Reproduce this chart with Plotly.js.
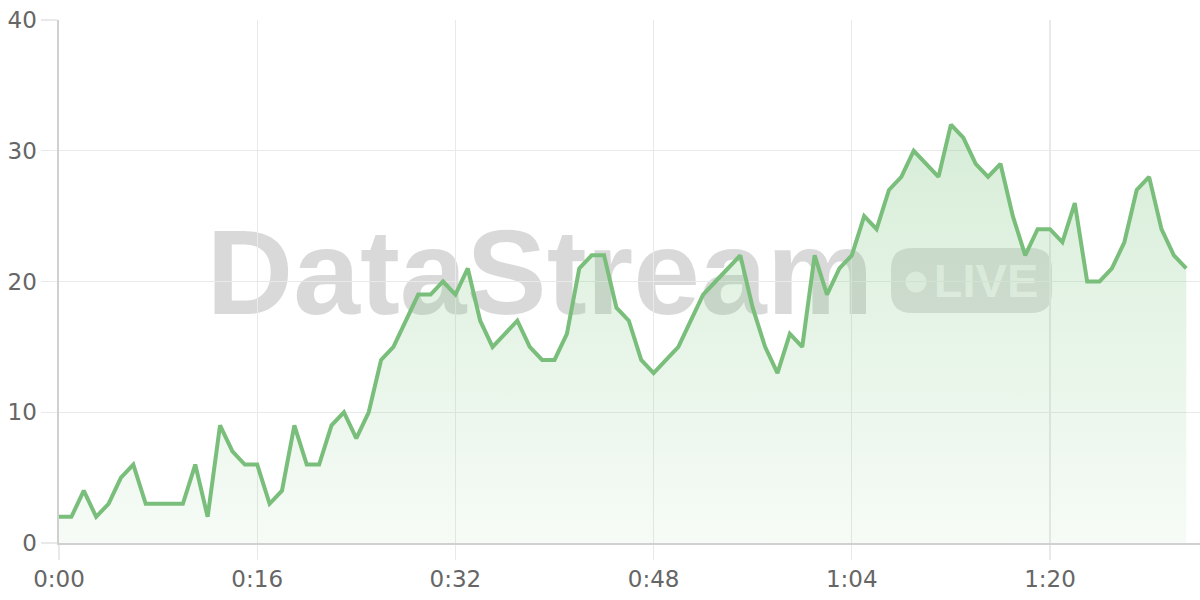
<!DOCTYPE html>
<html>
<head>
<meta charset="utf-8">
<script src="https://cdn.plot.ly/plotly-3.0.1.min.js"></script>
<style>
  html, body { margin: 0; padding: 0; background: #ffffff; }
  #chart { width: 1200px; height: 600px; }
</style>
</head>
<body>
<div id="chart"></div>
<script>
// ---- data (one value per second) ----
const values = [
  2, 2, 4, 2, 3, 5, 6, 3, 3, 3,
  3, 6, 2, 9, 7, 6, 6, 3, 4, 9,
  6, 6, 9, 10, 8, 10, 14, 15, 17, 19,
  19, 20, 19, 21, 17, 15, 16, 17, 15, 14,
  14, 16, 21, 22, 22, 18, 17, 14, 13, 14,
  15, 17, 19, 20, 21, 22, 18, 15, 13, 16,
  15, 22, 19, 21, 22, 25, 24, 27, 28, 30,
  29, 28, 32, 31, 29, 28, 29, 25, 22, 24,
  24, 23, 26, 20, 20, 21, 23, 27, 28, 24,
  22, 21
];
const xTickVals = [0, 16, 32, 48, 64, 80];
const xTickText = ['0:00', '0:16', '0:32', '0:48', '1:04', '1:20'];
const yTickVals = [0, 10, 20, 30, 40];
const watermarkText = 'DataStream';
const badgeText = 'LIVE';

const seconds = values.map((v, i) => i);

// ---- layout geometry (pixels) ----
const W = 1200, H = 600;
const M = { l: 59, r: 0, t: 20, b: 57 };
const plotW = W - M.l - M.r, plotH = H - M.t - M.b;
const px = p => (p - M.l) / plotW;          // pixel x -> paper
const py = p => (H - M.b - p) / plotH;      // pixel y -> paper

function roundRectPath(x0, y0, x1, y1, r) {
  const P = (x, y) => px(x).toFixed(5) + ',' + py(y).toFixed(5);
  return 'M' + P(x0 + r, y0) +
    ' L' + P(x1 - r, y0) + ' Q' + P(x1, y0) + ' ' + P(x1, y0 + r) +
    ' L' + P(x1, y1 - r) + ' Q' + P(x1, y1) + ' ' + P(x1 - r, y1) +
    ' L' + P(x0 + r, y1) + ' Q' + P(x0, y1) + ' ' + P(x0, y1 - r) +
    ' L' + P(x0, y0 + r) + ' Q' + P(x0, y0) + ' ' + P(x0 + r, y0) + ' Z';
}

const lineColor = 'rgb(122,190,123)';
const maxV = Math.max(...values);

const trace = {
  type: 'scatter',
  mode: 'lines',
  x: seconds,
  y: values,
  line: { color: lineColor, width: 4, shape: 'linear' },
  fill: 'tozeroy',
  fillgradient: {
    type: 'vertical',
    start: 0,
    stop: maxV,
    colorscale: [
      [0, 'rgba(129,199,132,0.07)'],
      [1, 'rgba(129,199,132,0.32)']
    ]
  },
  hoverinfo: 'skip'
};

const tickFont = { family: 'DejaVu Sans', size: 23, color: '#666666' };

const layout = {
  width: W, height: H,
  margin: M,
  paper_bgcolor: '#ffffff',
  plot_bgcolor: '#ffffff',
  showlegend: false,
  hovermode: false,
  xaxis: {
    range: [0, plotW / 12.3875],
    tickvals: xTickVals,
    ticktext: xTickText,
    showgrid: true,
    gridcolor: '#e9e9e9',
    gridwidth: 1.4,
    zeroline: false,
    showline: true,
    linecolor: '#d0d0d0',
    linewidth: 1.6,
    ticks: 'outside',
    ticklen: 15,
    tickcolor: '#e9e9e9',
    tickwidth: 1.4,
    tickfont: tickFont,
    fixedrange: true
  },
  yaxis: {
    range: [0, 40],
    tickvals: yTickVals,
    showgrid: true,
    gridcolor: '#e9e9e9',
    gridwidth: 1.4,
    zeroline: false,
    showline: true,
    linecolor: '#d0d0d0',
    linewidth: 1.6,
    ticks: 'outside',
    ticklen: 16,
    tickcolor: '#e9e9e9',
    tickwidth: 1.4,
    tickfont: tickFont,
    fixedrange: true
  },
  shapes: [
    // watermark word
    {
      type: 'rect', xref: 'paper', yref: 'paper', layer: 'below',
      x0: px(190), x1: px(890), y0: py(309), y1: py(213),
      line: { width: 0 }, fillcolor: 'rgba(0,0,0,0)',
      label: {
        text: watermarkText,
        textposition: 'middle center',
        font: { family: 'Liberation Sans', size: 120, weight: 700, color: 'rgba(0,0,0,0.15)' }
      }
    },
    // LIVE badge background
    {
      type: 'path', xref: 'paper', yref: 'paper', layer: 'below',
      path: roundRectPath(891, 248, 1052, 313, 21),
      line: { width: 0 }, fillcolor: 'rgba(0,0,0,0.12)'
    },
    // badge dot
    {
      type: 'circle', xref: 'paper', yref: 'paper', layer: 'below',
      x0: px(905.5), x1: px(926.5), y0: py(292.5), y1: py(271.5),
      line: { width: 0 }, fillcolor: 'rgba(255,255,255,0.65)'
    },
    // badge text
    {
      type: 'rect', xref: 'paper', yref: 'paper', layer: 'below',
      x0: px(936), x1: px(1036), y0: py(296), y1: py(256),
      line: { width: 0 }, fillcolor: 'rgba(0,0,0,0)',
      label: {
        text: badgeText,
        textposition: 'middle center',
        font: { family: 'Liberation Sans', size: 47, weight: 700, color: 'rgba(255,255,255,0.68)' }
      }
    }
  ]
};

Plotly.newPlot('chart', [trace], layout, { displayModeBar: false, staticPlot: true });
</script>
</body>
</html>
